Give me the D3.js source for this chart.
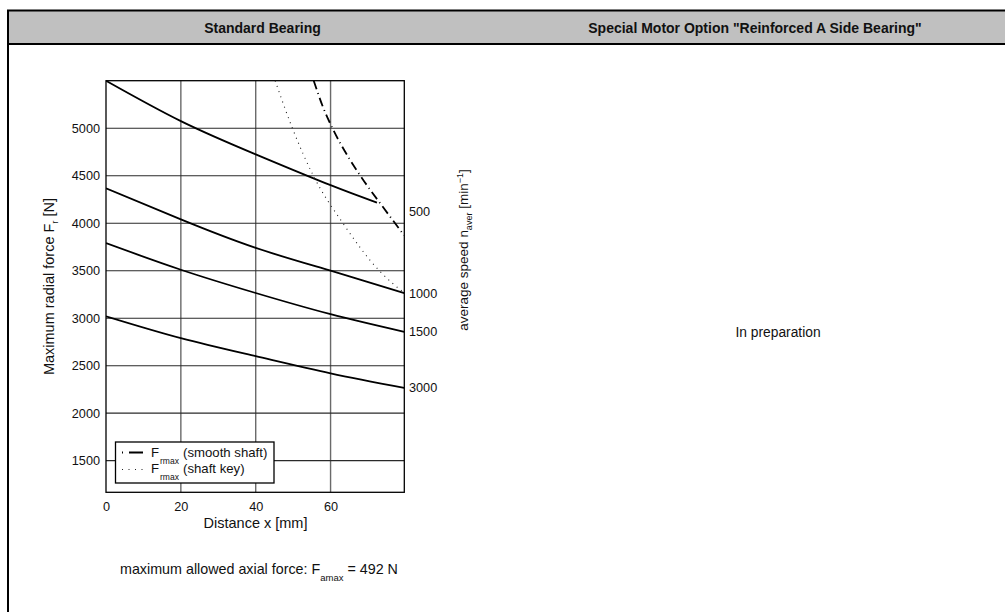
<!DOCTYPE html>
<html>
<head>
<meta charset="utf-8">
<script src="https://cdn.jsdelivr.net/npm/d3@7"></script>
<style>
  html, body { margin: 0; padding: 0; background: #fff; }
  svg { display: block; }
  text { font-family: "Liberation Sans", Arial, Helvetica, sans-serif; fill: #111; }
</style>
</head>
<body>
<svg id="chart" width="1005" height="612"></svg>
<script>
// ---------- data ----------
const speedLabels = ["500", "1000", "1500", "3000"];
const curve500X  = [0, 20, 40, 60, 72.4];
const curve500F  = [5500, 5075, 4725, 4400, 4217];
const curve1000X = [0, 20, 40, 60, 79.7];
const curve1000F = [4368, 4040, 3740, 3500, 3264];
const curve1500X = [0, 20, 40, 60, 79.7];
const curve1500F = [3790, 3510, 3265, 3042, 2856];
const curve3000X = [0, 20, 40, 60, 79.7];
const curve3000F = [3020, 2790, 2600, 2420, 2267];
const smoothShaftX = [55.5, 58, 60.5, 65, 69, 74, 79.7];
const smoothShaftF = [5500, 5220, 5000, 4680, 4440, 4170, 3870];
const shaftKeyX = [45.2, 49.8, 55.4, 63.3, 73, 79.7];
const shaftKeyF = [5500, 5000, 4500, 4000, 3500, 3265];
const speedLabelF = [4120, 3264, 2856, 2267];
const xTicks = [0, 20, 40, 60];
const yTicks = [1500, 2000, 2500, 3000, 3500, 4000, 4500, 5000];
const xDomain = [0, 79.7];
const yDomain = [1167, 5500];
const headerTitles = ["Standard Bearing", "Special Motor Option \"Reinforced A Side Bearing\""];
const axialForceValue = "492 N";

// ---------- layout ----------
const svg = d3.select("#chart");
const plot = { left: 106, right: 404.3, top: 80.7, bottom: 492.3 };

const x = d3.scaleLinear().domain(xDomain).range([plot.left, plot.right]);
const y = d3.scaleLinear().domain(yDomain).range([plot.bottom, plot.top]);

// frame + header
svg.append("rect").attr("x", 9).attr("y", 11).attr("width", 1005 - 9).attr("height", 33)
  .attr("fill", "#c0c0c0");
svg.append("line").attr("x1", 7).attr("x2", 1005).attr("y1", 10.5).attr("y2", 10.5)
  .attr("stroke", "#000").attr("stroke-width", 2);
svg.append("line").attr("x1", 7).attr("x2", 1005).attr("y1", 44).attr("y2", 44)
  .attr("stroke", "#000").attr("stroke-width", 2);
svg.append("line").attr("x1", 8).attr("x2", 8).attr("y1", 10).attr("y2", 612)
  .attr("stroke", "#000").attr("stroke-width", 2);

const headerX = [262.5, 755];
svg.selectAll(".hdr").data(headerTitles).join("text")
  .attr("class", "hdr")
  .attr("x", (d, i) => headerX[i]).attr("y", 33)
  .attr("text-anchor", "middle")
  .attr("font-size", 14).attr("font-weight", "bold")
  .text(d => d);

// gridlines
const g = svg.append("g");
g.selectAll(".vgrid").data(xTicks.filter(d => d > 0)).join("line")
  .attr("x1", d => x(d)).attr("x2", d => x(d))
  .attr("y1", plot.top).attr("y2", plot.bottom)
  .attr("stroke", "#6a6a6a").attr("stroke-width", 1.4);
g.selectAll(".hgrid").data(yTicks).join("line")
  .attr("x1", plot.left).attr("x2", plot.right)
  .attr("y1", d => y(d)).attr("y2", d => y(d))
  .attr("stroke", "#2a2a2a").attr("stroke-width", 1.1);

// axes (labels)
const xAxis = d3.axisBottom(x).tickValues(xTicks).tickSize(0).tickPadding(10).tickFormat(d3.format("d"));
const yAxis = d3.axisLeft(y).tickValues(yTicks).tickSize(0).tickPadding(6).tickFormat(d3.format("d"));
const xa = svg.append("g").attr("transform", `translate(0,${plot.bottom})`).call(xAxis);
const ya = svg.append("g").attr("transform", `translate(${plot.left},0)`).call(yAxis);
[xa, ya].forEach(a => {
  a.select(".domain").remove();
  a.selectAll("text").attr("font-size", 12.7).attr("fill", "#111")
    .attr("font-family", "'Liberation Sans', Arial, sans-serif");
});

// plot border
svg.append("rect").attr("x", plot.left).attr("y", plot.top)
  .attr("width", plot.right - plot.left).attr("height", plot.bottom - plot.top)
  .attr("fill", "none").attr("stroke", "#000").attr("stroke-width", 1.3);

// curves
const lineSmooth = d3.line().x(d => x(d[0])).y(d => y(d[1])).curve(d3.curveNatural);
const lineMono = d3.line().x(d => x(d[0])).y(d => y(d[1])).curve(d3.curveMonotoneX);
const zip = (a, b) => a.map((v, i) => [v, b[i]]);
const solidCurves = [
  zip(curve500X, curve500F), zip(curve1000X, curve1000F),
  zip(curve1500X, curve1500F), zip(curve3000X, curve3000F)
];
svg.append("defs").append("clipPath").attr("id", "pc").append("rect")
  .attr("x", plot.left).attr("y", plot.top - 1)
  .attr("width", plot.right - plot.left).attr("height", plot.bottom - plot.top + 2);
const cg = svg.append("g").attr("clip-path", "url(#pc)");
cg.selectAll(".solid").data(solidCurves).join("path")
  .attr("d", lineSmooth).attr("fill", "none").attr("stroke", "#000").attr("stroke-width", 1.8);
cg.append("path").datum(zip(smoothShaftX, smoothShaftF))
  .attr("d", lineMono).attr("fill", "none").attr("stroke", "#000").attr("stroke-width", 1.8)
  .attr("stroke-dasharray", "9,4,1,4");
cg.append("path").datum(zip(shaftKeyX, shaftKeyF))
  .attr("d", lineMono).attr("fill", "none").attr("stroke", "#222").attr("stroke-width", 1.1)
  .attr("stroke-dasharray", "1,4.5");

// speed labels on right
svg.selectAll(".spd").data(speedLabels).join("text")
  .attr("x", 409).attr("y", (d, i) => y(speedLabelF[i]))
  .attr("dy", "0.35em").attr("font-size", 12.7).text(d => d);

// axis titles
const lt = svg.append("text").attr("transform", `translate(54,${(plot.top + plot.bottom) / 2}) rotate(-90)`)
  .attr("text-anchor", "middle").attr("font-size", 14.5);
lt.append("tspan").text("Maximum radial force F");
lt.append("tspan").attr("font-size", 9.5).attr("dy", 4).text("r");
lt.append("tspan").attr("dy", -4).text(" [N]");

const rt = svg.append("text").attr("transform", `translate(468,250) rotate(-90)`)
  .attr("text-anchor", "middle").attr("font-size", 13.5);
rt.append("tspan").text("average speed n");
rt.append("tspan").attr("font-size", 9).attr("dy", 4).text("aver");
rt.append("tspan").attr("dy", -4).text(" [min");
rt.append("tspan").attr("font-size", 9).attr("dy", -5).text("−1");
rt.append("tspan").attr("dy", 5).text("]");

// x axis title
svg.append("text").attr("x", 255.5).attr("y", 528).attr("text-anchor", "middle")
  .attr("font-size", 14.5).text("Distance x [mm]");

// legend
const lg = svg.append("g");
lg.append("rect").attr("x", 115.5).attr("y", 442).attr("width", 158.5).attr("height", 41)
  .attr("fill", "#fff").attr("stroke", "#000").attr("stroke-width", 1.3);
lg.append("line").attr("x1", 122).attr("x2", 143).attr("y1", 452.5).attr("y2", 452.5)
  .attr("stroke", "#000").attr("stroke-width", 1.8).attr("stroke-dasharray", "1,6,14");
lg.append("line").attr("x1", 122).attr("x2", 143).attr("y1", 469.5).attr("y2", 469.5)
  .attr("stroke", "#222").attr("stroke-width", 1.1).attr("stroke-dasharray", "1,5.5");
const legendRows = [["(smooth shaft)", 457], ["(shaft key)", 473]];
legendRows.forEach(([lbl, by]) => {
  lg.append("text").attr("x", 151).attr("y", by).attr("font-size", 13.2).text("F");
  lg.append("text").attr("x", 160).attr("y", by + 6.5).attr("font-size", 8.5).text("rmax");
  lg.append("text").attr("x", 183).attr("y", by).attr("font-size", 13.2).text(lbl);
});

// right panel text
svg.append("text").attr("x", 778).attr("y", 337)
  .attr("text-anchor", "middle").attr("font-size", 13.8).text("In preparation");

// bottom note
const bn = svg.append("text").attr("x", 120).attr("y", 574).attr("font-size", 14.3);
bn.append("tspan").text("maximum allowed axial force: F");
bn.append("tspan").attr("font-size", 9.5).attr("dy", 7).text("amax");
bn.append("tspan").attr("dy", -7).text(" =  " + axialForceValue);
</script>
</body>
</html>
